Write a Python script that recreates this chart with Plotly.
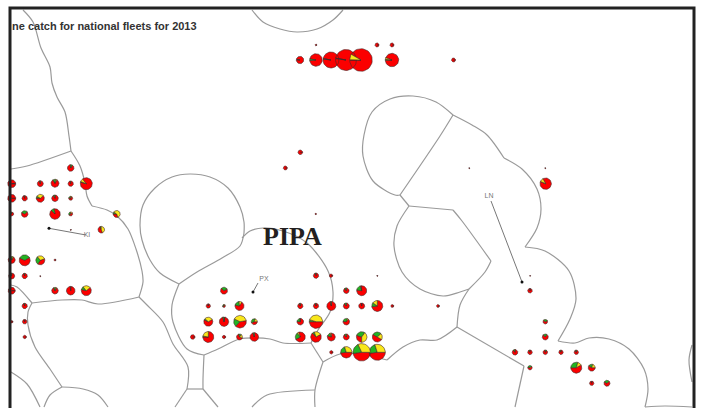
import numpy as np
import plotly.graph_objects as go

# ---- pie glyphs: position, radius, yellow and green shares, start angle (degrees, counter-clockwise)
pie_x = [300, 316, 331, 346, 361, 392, 316, 377, 392, 453.5,
         70.7, 11.7, 40.3, 55, 70.7, 86.3, 11.7, 24.7, 40.3, 55, 70.7, 11.7, 24.7, 55, 70.7, 116.7, 101.3, 70.7,
         11.7, 24.7, 40.3, 55, 11.7, 24.7, 40.3, 11.7, 55, 70.7, 86.3, 24.7, 24.7, 11.7, 24.7,
         224, 208.3, 224, 239.5, 208.3, 224, 240, 192.7, 208.3, 224, 239.5, 254.3, 254.3,
         316, 331, 377.3, 346.3, 361.7, 300.3, 316, 331.3, 346.3, 361.7, 377.3, 392.3, 438,
         300.3, 316, 346.3, 300.3, 316, 331.3, 346.3, 361.7, 377.3, 331.3, 346.3, 361.7, 377.3,
         530, 530, 545.3, 545.3, 515, 530, 545.3, 561, 576.3, 530, 576.3, 591.7, 591.7, 607,
         300.3, 285.3, 315.7, 469.3, 545.3, 545.7]
pie_y = [60, 60, 60, 60, 60, 60, 45, 45, 45, 60,
         168, 183.7, 183.7, 183.3, 183.7, 183.7, 198.3, 198.3, 198.3, 198.3, 198.3, 214, 214, 214, 214, 214, 229.7, 229.7,
         260, 260.3, 260.3, 260, 276, 276, 276, 290.7, 290.7, 290.7, 290.7, 306, 321.7, 321.7, 337,
         290.7, 306, 306, 306, 321.7, 321.7, 321.7, 337, 337, 337, 337, 321.7, 337,
         275.7, 275.7, 275.7, 290.7, 290.7, 306, 306, 306, 306, 306, 306, 306, 306,
         321.7, 321.7, 321.7, 337, 337, 337, 337, 337, 337, 352.3, 352.3, 352.3, 352.3,
         290.7, 275.7, 321.7, 337, 352.3, 352.3, 352.3, 352.3, 352.3, 367.7, 367.7, 367.7, 383.3, 383.3,
         152.3, 168, 214, 168, 168, 183.7]
pie_r = [3.7, 6.3, 8, 10.5, 11.3, 6.7, 0.9, 2, 2, 2,
         3.3, 4, 3, 4, 2.7, 6, 4, 2.7, 4, 3.3, 2, 2, 3.3, 5.3, 2, 3.5, 3.3, 0.7,
         3.5, 5.5, 4.5, 1, 3, 2.7, 0.7, 3.5, 3.3, 4.3, 5, 2.7, 2.3, 1.3, 1.7,
         3.5, 2.2, 1.5, 4.5, 4.5, 4.7, 6.3, 2.3, 5.5, 1.7, 3, 3, 4.3,
         2.7, 1.7, 0.7, 2.8, 5, 2.7, 2.7, 4.5, 3, 3, 5.5, 1.5, 1.5,
         3.3, 6.7, 3.3, 5, 5.3, 4, 3, 5.3, 5, 1.7, 5.7, 8.7, 8,
         2.3, 0.6, 2.3, 3, 2.8, 2.3, 2.3, 2.2, 2.2, 2.2, 5.5, 3.5, 2.2, 3,
         2.3, 2, 0.8, 0.7, 0.7, 5.7]
pie_yellow = [0, 0, 0, 0, 0.08, 0.04, 0, 0, 0, 0,
              0, 0, 0, 0.05, 0, 0.08, 0, 0, 0.3, 0, 0.1, 0, 0, 0, 0.15, 0.6, 0.45, 0,
              0.05, 0, 0.3, 0, 0, 0, 0, 0, 0.05, 0, 0.25, 0, 0, 0, 0,
              0, 0, 0.1, 0.1, 0.3, 0.02, 0.4, 0, 0.22, 0, 0.2, 0.2, 0,
              0, 0, 0, 0, 0.02, 0, 0, 0, 0, 0, 0.15, 0, 0,
              0.02, 0.45, 0.05, 0.05, 0.22, 0.05, 0, 0.4, 0.2, 0, 0.3, 0.32, 0.3,
              0, 0, 0, 0, 0, 0, 0, 0, 0, 0, 0.12, 0.2, 0, 0,
              0, 0, 0, 0, 0, 0.1]
pie_green = [0.03, 0.04, 0.01, 0.01, 0.01, 0.02, 0, 0, 0, 0,
             0.1, 0.02, 0.05, 0.12, 0.05, 0.02, 0, 0.05, 0.08, 0.08, 0.2, 0.1, 0.3, 0.1, 0.3, 0.1, 0.05, 0,
             0.1, 0.35, 0.3, 0, 0.05, 0.05, 0, 0, 0.1, 0.02, 0.1, 0.05, 0.05, 0, 0,
             0.3, 0.05, 0.3, 0.2, 0.05, 0.05, 0.2, 0, 0.03, 0, 0.15, 0.35, 0.05,
             0.05, 0, 0, 0.1, 0.18, 0.05, 0.05, 0.03, 0.1, 0.03, 0.12, 0, 0,
             0.22, 0.05, 0.3, 0.22, 0.06, 0.15, 0.1, 0.3, 0.3, 0, 0.22, 0.2, 0.22,
             0.03, 0, 0.3, 0.2, 0.1, 0.08, 0.1, 0.08, 0.08, 0.35, 0.3, 0.2, 0.05, 0.3,
             0, 0, 0, 0, 0, 0.01]
pie_start = [170, 170, 170, 170, 150, 160, 0, 0, 0, 0,
             60, 0, 90, 60, 90, 130, 0, 90, 40, 90, 60, 90, 45, 100, 45, -70, -70, 0,
             60, 30, 20, 0, 90, 90, 0, 0, 60, 90, 40, 90, 90, 0, 0,
             30, 90, 60, 60, 30, 80, 10, 0, 90, 0, -20, 0, 90,
             90, 0, 0, 90, 100, 90, 90, 90, 90, 90, 90, 0, 0,
             90, 0, 50, 110, 30, 90, 90, -90, -30, 0, 0, 0, 0,
             90, 0, 30, 60, 90, 90, 60, 90, 90, 45, 30, 0, 90, 45,
             0, 0, 0, 0, 0, 120]

# ---- area boundaries
boundaries = [
    [(23, 10), (33, 22), (41, 48), (50, 67), (52, 83), (57, 97), (65, 112), (69, 136), (71, 151)],
    [(71, 151), (80, 166), (85, 183), (87, 196), (92, 206)],
    [(92, 206), (107, 210), (117, 216), (128, 229), (136, 249), (142, 271), (143, 282), (139, 297)],
    [(139, 297), (147, 305), (163, 322), (173, 344), (188, 367), (187, 389)],
    [(187, 389), (175, 407)],
    [(11, 169), (27, 166), (71, 151)],
    [(139, 297), (98, 304), (82, 300), (62, 300), (32, 303)],
    [(32, 303), (17, 287), (11, 285)],
    [(32, 303), (28, 312), (28, 325), (35, 347), (50, 369), (62, 387)],
    [(62, 387), (83, 389), (98, 395), (108, 407)],
    [(62, 387), (50, 395), (44, 407)],
    [(11, 372), (27, 384), (40, 407)],
    [(187, 389), (203, 389)],
    [(203, 389), (218, 407)],
    [(203, 389), (203, 379), (204, 355)],
    [(204, 355), (187, 349), (173, 322), (172, 305), (179, 284)],
    [(179, 284), (160, 273), (150, 260), (142, 240), (140, 225), (143, 205), (155, 188), (172, 177), (190, 174),
     (210, 177), (228, 188), (240, 207), (244, 222), (244, 233)],
    [(244, 233), (240, 246), (222, 258), (197, 272), (179, 284)],
    [(242, 238), (250, 231), (263, 228), (283, 231), (307, 243), (328, 271), (333, 292), (330, 312), (318, 330), (311, 343)],
    [(311, 343), (283, 343), (270, 339), (240, 339), (218, 349), (204, 355)],
    [(311, 343), (323, 362)],
    [(323, 362), (340, 354), (360, 354), (387, 360)],
    [(387, 360), (403, 347), (420, 340), (437, 340), (457, 327)],
    [(457, 327), (460, 305), (469, 289)],
    [(469, 289), (485, 272), (491, 261)],
    [(491, 261), (462, 221), (453, 210)],
    [(453, 210), (409, 206)],
    [(409, 206), (400, 195)],
    [(400, 195), (440, 136), (453, 115)],
    [(323, 362), (315, 390), (315, 407)],
    [(315, 390), (267, 395), (252, 407)],
    [(457, 327), (524, 366)],
    [(524, 366), (515, 407)],
    [(469, 289), (460, 292), (443, 296), (420, 289), (402, 272), (394, 246), (397, 226), (409, 206)],
    [(400, 195), (395, 195), (373, 181), (363, 156), (364, 135), (372, 112), (390, 99), (413, 96), (436, 102), (453, 115)],
    [(453, 115), (472, 125), (487, 135), (504, 158)],
    [(504, 158), (522, 169), (537, 189), (541, 209), (537, 228), (525, 247)],
    [(525, 247), (545, 251), (569, 271), (576, 299), (570, 319), (558, 341)],
    [(558, 341), (575, 343), (589, 338), (609, 339), (629, 349), (644, 369), (648, 389), (645, 407)],
    [(645, 407), (665, 406), (692, 407)],
    [(252, 10), (263, 22), (280, 29), (297, 32), (317, 29), (333, 20), (343, 10)],
    [(692, 345), (689, 360), (692, 382)],
]

# ---- named arrows and labels
arrow_labels = ["KI", "PX", "LN"]
arrow_from_x = [86, 258, 491]
arrow_from_y = [235, 283, 201]
arrow_to_x = [49, 253, 522]
arrow_to_y = [228.3, 292, 282]
label_x = [87, 264, 489]
label_y = [235, 279, 196]

title_text = "ne catch for national fleets for 2013"
area_text = "PIPA"

RED, GREEN, YELLOW = "#fb0000", "#22b422", "#f8e71a"
EDGE = "rgba(70,40,40,0.85)"


def wedge(cx, cy, r, a0, a1):
    angles = np.radians(np.linspace(a0, a1, max(3, int(abs(a1 - a0) / 8) + 2)))
    # the y axis is reversed, so counter-clockwise on screen subtracts sine
    return [cx] + list(cx + r * np.cos(angles)) + [cx, None], [cy] + list(cy - r * np.sin(angles)) + [cy, None]


polys = {RED: ([], []), GREEN: ([], []), YELLOW: ([], [])}
for x, y, r, yel, gre, st in zip(pie_x, pie_y, pie_r, pie_yellow, pie_green, pie_start):
    a = st
    for share, col in ((yel, YELLOW), (gre, GREEN), (1 - yel - gre, RED)):
        if share > 0:
            wx, wy = wedge(x, y, r, a, a + 360 * share)
            polys[col][0].extend(wx)
            polys[col][1].extend(wy)
            a += 360 * share

fig = go.Figure()
for path in boundaries:
    xs, ys = zip(*path)
    fig.add_trace(go.Scatter(x=xs, y=ys, mode="lines",
                             line=dict(color="#9a9a9a", width=1.2, shape="spline", smoothing=0.9), hoverinfo="skip"))

for x0, y0, x1, y1 in zip(arrow_from_x, arrow_from_y, arrow_to_x, arrow_to_y):
    fig.add_trace(go.Scatter(x=[x0, x1], y=[y0, y1], mode="lines", line=dict(color="#777777", width=1), hoverinfo="skip"))
    fig.add_trace(go.Scatter(x=[x1], y=[y1], mode="markers", marker=dict(color="#111111", size=3), hoverinfo="skip"))

for col in (RED, GREEN, YELLOW):
    fig.add_trace(go.Scatter(x=polys[col][0], y=polys[col][1], mode="lines", fill="toself", fillcolor=col,
                             line=dict(color=EDGE, width=0.7), hoverinfo="skip"))

fig.add_trace(go.Scatter(x=label_x, y=label_y, mode="text", text=arrow_labels,
                         textfont=dict(family="Liberation Sans", size=7, color="#777777"), hoverinfo="skip"))

fig.add_annotation(x=10, y=26, text=f"<b>{title_text}</b>", showarrow=False, xanchor="left", yanchor="middle",
                   font=dict(family="Liberation Sans", size=11, color="#333333"))
fig.add_annotation(x=292.5, y=236, text=f"<b>{area_text}</b>", showarrow=False, xanchor="center", yanchor="middle",
                   font=dict(family="Liberation Serif", size=26, color="#231f20"))

fig.add_shape(type="rect", x0=10, y0=8, x1=694, y1=420, line=dict(color="#222222", width=3), fillcolor="rgba(0,0,0,0)")

fig.update_layout(width=702, height=408, margin=dict(l=0, r=0, t=0, b=0), showlegend=False,
                  paper_bgcolor="white", plot_bgcolor="white",
                  xaxis=dict(range=[0, 702], visible=False, fixedrange=True),
                  yaxis=dict(range=[408, 0], visible=False, fixedrange=True))
fig.write_html("out.html", config=dict(displayModeBar=False),
               post_script="document.body.style.margin='0';document.documentElement.style.overflow='hidden';")
